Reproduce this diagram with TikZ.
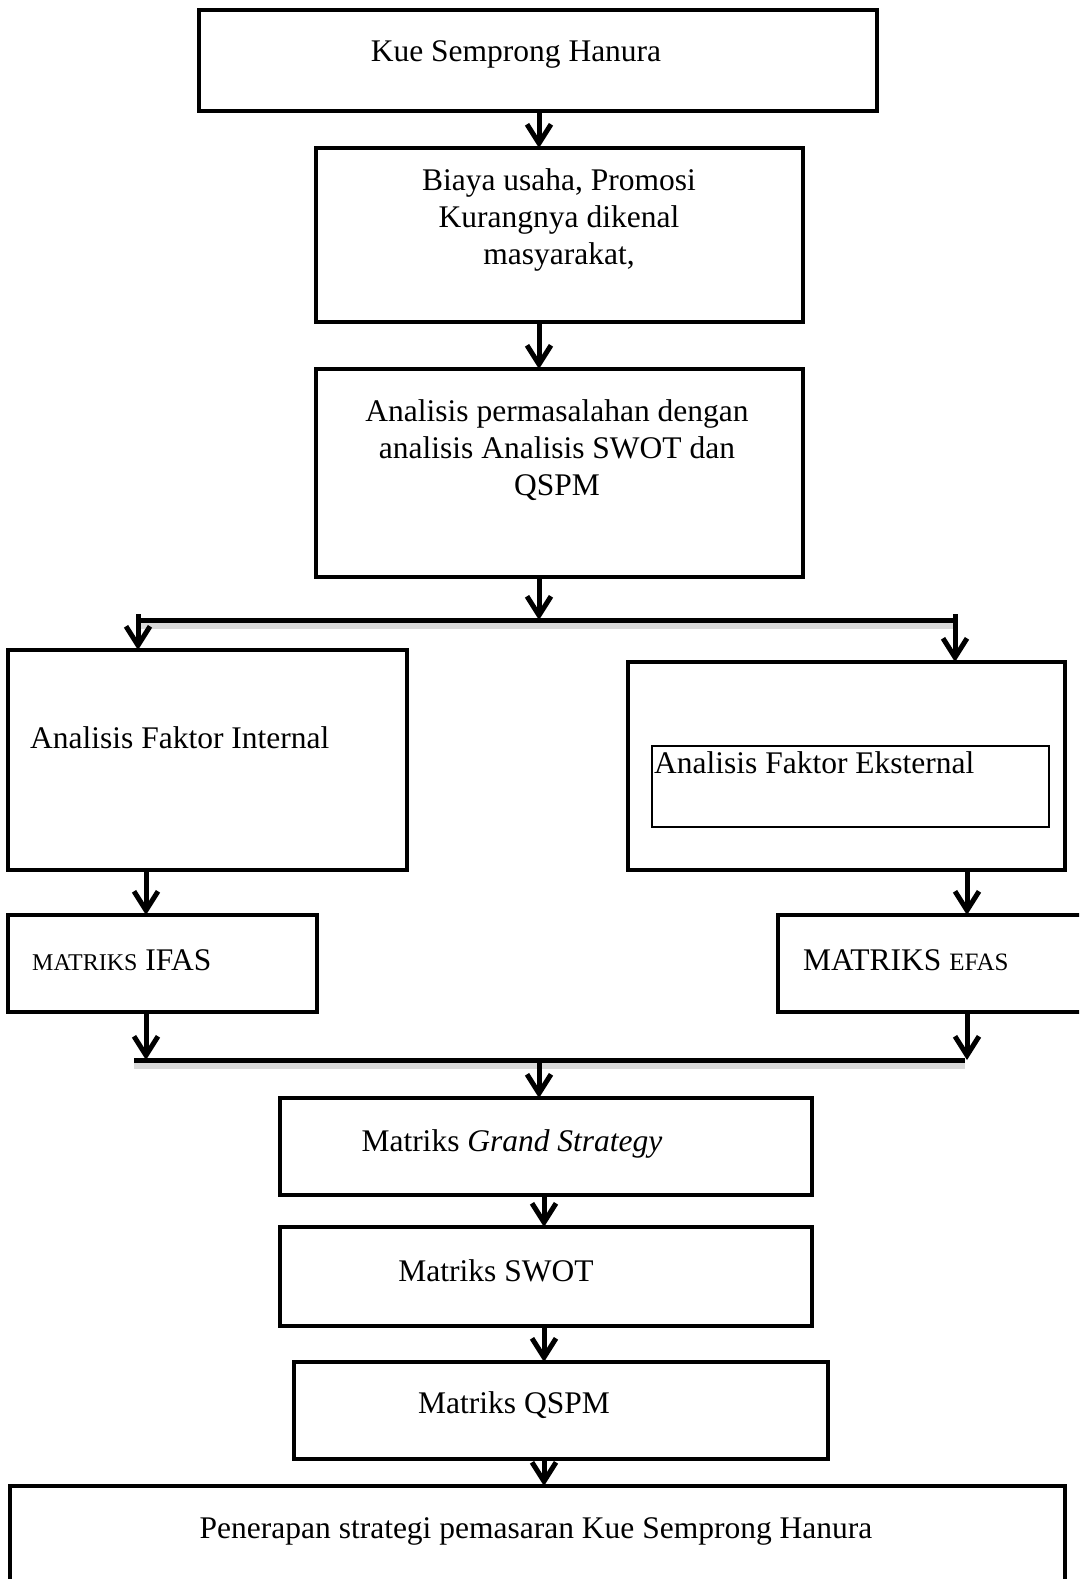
\documentclass[tikz,border=0pt]{standalone}
\usepackage{fontspec}
\setmainfont{Liberation Serif}
\usetikzlibrary{arrows.meta}
\begin{document}
\begin{tikzpicture}[x=1pt,y=-1pt,
 box/.style={draw, line width=4.5pt, inner sep=0pt, outer sep=0pt, anchor=north west},
 thinbox/.style={draw, line width=1.5pt, inner sep=0pt, outer sep=0pt, anchor=north west},
 txt/.style={font=\fontsize{31.5}{37}\selectfont, align=center, inner sep=0pt},
 arr/.style={line width=5pt, -{Straight Barb[length=19pt,width=24pt]}},
 bar/.style={line width=5pt},
 shadowline/.style={line width=8pt, black!15}]
\useasboundingbox (0,0) rectangle (1079,1579);
\fill[white] (0,0) rectangle (1079,1579);
\begin{scope}
\clip (0,0) rectangle (1079,1579);
% boxes
\node[box, minimum width=678pt, minimum height=101pt] (b1) at (199,10) {};
\node[box, minimum width=487pt, minimum height=174pt] (b2) at (316,148) {};
\node[box, minimum width=487pt, minimum height=208pt] (b3) at (316,369) {};
\node[box, minimum width=399pt, minimum height=220pt] (b4) at (8,650) {};
\node[box, minimum width=437pt, minimum height=208pt] (b5) at (628,662) {};
\node[thinbox, minimum width=397pt, minimum height=81pt] (b5i) at (652,746) {};
\node[box, minimum width=309pt, minimum height=97pt] (b6) at (8,915) {};
\node[box, minimum width=307pt, minimum height=97pt] (b7) at (778,915) {};
\node[box, minimum width=532pt, minimum height=97pt] (b8) at (280,1098) {};
\node[box, minimum width=532pt, minimum height=99pt] (b9) at (280,1227) {};
\node[box, minimum width=534pt, minimum height=97pt] (b10) at (294,1362) {};
\node[box, minimum width=1055pt, minimum height=110pt] (b11) at (10,1486) {};
% texts
\node[txt] (t1) at (516,54) {Kue Semprong Hanura};
\node[txt] (t2) at (559,220) {Biaya usaha, Promosi\\Kurangnya dikenal\\masyarakat,};
\node[txt] (t3) at (557,450) {Analisis permasalahan dengan\\analisis Analisis SWOT dan\\QSPM};
\node[txt, anchor=west] (t4) at (30,738) {Analisis Faktor Internal};
\node[txt, anchor=west] (t5) at (654,763) {Analisis Faktor Eksternal};
\node[txt, anchor=west] (t6) at (32,960) {{\fontsize{24}{28}\selectfont MATRIKS} IFAS};
\node[txt, anchor=west] (t7) at (803,960) {MATRIKS {\fontsize{25}{28}\selectfont EFAS}};
\node[txt] (t8) at (512,1144) {Matriks \textit{Grand Strategy}};
\node[txt] (t9) at (496,1271) {Matriks SWOT};
\node[txt] (t10) at (514,1405) {Matriks QSPM};
\node[txt] (t11) at (536,1531) {Penerapan strategi pemasaran Kue Semprong Hanura};
% coordinates
\coordinate (c1) at (539,0);
\coordinate (c2) at (544,0);
\coordinate (j1) at (539,620);
\coordinate (jl) at (138,620);
\coordinate (jr) at (955,620);
\coordinate (k1) at (539,1060);
\coordinate (kl) at (134,1060);
\coordinate (kr) at (965,1060);
\coordinate (xl) at (146,0);
\coordinate (xr) at (967,0);
% shadows of bars
\draw[shadowline] ([yshift=-5pt]jl) -- ([yshift=-5pt]jr);
\draw[shadowline] ([yshift=-5pt]kl) -- ([yshift=-5pt]kr);
% connectors
\draw[arr] (b1.south -| c1) -- (b2.north -| c1);
\draw[arr] (b2.south -| c1) -- (b3.north -| c1);
\draw[arr] (b3.south -| c1) -- (j1);
\draw[bar] (jl) -- (jr);
\draw[arr] ([yshift=6pt]jl) -- (b4.north -| jl);
\draw[arr] ([yshift=6pt]jr) -- (b5.north -| jr);
\draw[arr] (b4.south -| xl) -- (b6.north -| xl);
\draw[arr] (b5.south -| xr) -- (b7.north -| xr);
\draw[arr] (b6.south -| xl) -- (kl -| xl);
\draw[arr] (b7.south -| xr) -- (kr -| xr);
\draw[bar] (kl) -- (kr);
\draw[arr] (k1) -- (b8.north -| k1);
\draw[arr] (b8.south -| c2) -- (b9.north -| c2);
\draw[arr] (b9.south -| c2) -- (b10.north -| c2);
\draw[arr] (b10.south -| c2) -- (b11.north -| c2);
\end{scope}
\end{tikzpicture}
\end{document}
